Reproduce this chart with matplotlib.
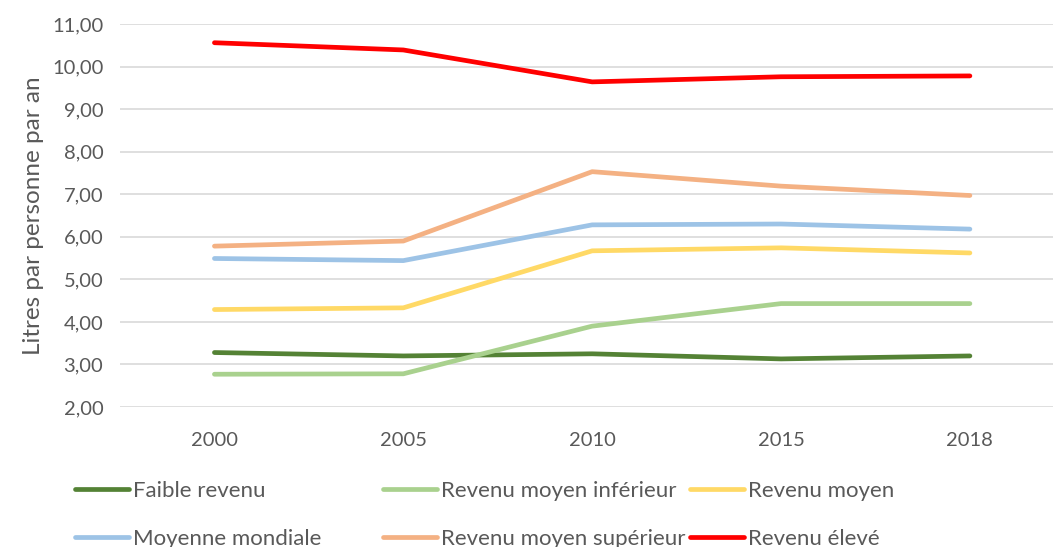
import matplotlib.pyplot as plt
import numpy as np

years = ["2000", "2005", "2010", "2015", "2018"]
faible = [3.28, 3.20, 3.25, 3.13, 3.20]
moyen_inf = [2.77, 2.78, 3.90, 4.43, 4.43]
moyen = [4.29, 4.33, 5.67, 5.74, 5.62]
mondiale = [5.49, 5.44, 6.28, 6.30, 6.18]
moyen_sup = [5.78, 5.90, 7.53, 7.19, 6.97]
eleve = [10.56, 10.39, 9.64, 9.76, 9.78]

names = ["Faible revenu", "Revenu moyen inférieur", "Revenu moyen",
         "Moyenne mondiale", "Revenu moyen supérieur", "Revenu élevé"]
series = [faible, moyen_inf, moyen, mondiale, moyen_sup, eleve]
colors = ["#548235", "#A9D18E", "#FFD966", "#9DC3E6", "#F4B183", "#FF0000"]

plt.rcParams['font.family'] = ['Lato', 'DejaVu Sans']
grey = "#595959"

fig = plt.figure(figsize=(10.53, 5.47), dpi=100)
ax = fig.add_axes([120/1053, 140/547, 1 - 120/1053, (407-24)/547])

x = np.arange(len(years))
handles = []
for vals, c, n in zip(series, colors, names):
    h, = ax.plot(x, vals, color=c, lw=3.4, solid_capstyle='round', label=n, zorder=3)
    handles.append(h)

ax.set_xlim(-0.5, 4.44)
ax.set_ylim(2, 11)
ax.set_yticks(np.arange(2, 11.01, 1))
ax.set_yticklabels([f"{v:.2f}".replace(".", ",") for v in np.arange(2, 11.01, 1)])
ax.set_xticks(x)
ax.set_xticklabels(years)
ax.grid(axis='y', color='#d9d9d9', lw=1.2)
ax.set_axisbelow(True)
for s in ax.spines.values():
    s.set_visible(False)
ax.tick_params(length=0, labelsize=14.5, colors=grey)
ax.tick_params(axis='x', pad=18)
ax.tick_params(axis='y', pad=12)
ax.set_ylabel("Litres par personne par an", fontsize=17.5, color=grey, labelpad=6)

# legend: three columns, placed separately so spacing is even
for i, xpos in enumerate([75, 383, 690]):
    fig.legend([handles[i], handles[i + 3]], [names[i], names[i + 3]],
               loc='upper left', bbox_to_anchor=(xpos/1053, 1 - 481/547),
               frameon=False, fontsize=16, handlelength=2.45, handletextpad=0.15,
               labelspacing=1.25, labelcolor=grey, borderaxespad=0, borderpad=0)

fig.savefig("out.png", dpi=100)
